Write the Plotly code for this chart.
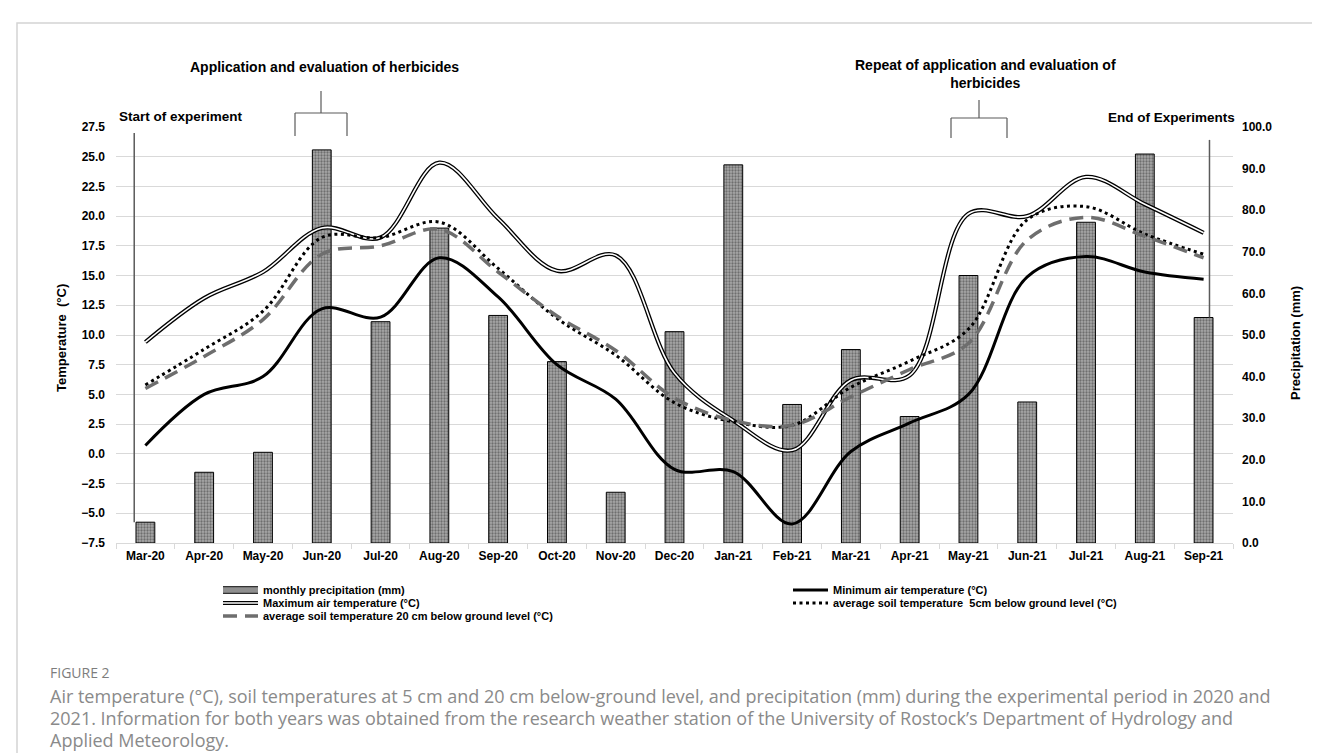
import plotly.graph_objects as go

months = ['Mar-20', 'Apr-20', 'May-20', 'Jun-20', 'Jul-20', 'Aug-20', 'Sep-20', 'Oct-20',
          'Nov-20', 'Dec-20', 'Jan-21', 'Feb-21', 'Mar-21', 'Apr-21', 'May-21', 'Jun-21',
          'Jul-21', 'Aug-21', 'Sep-21']
precip = [5.0, 17.0, 21.8, 94.5, 53.2, 75.7, 54.7, 43.6, 12.2, 50.8, 90.9, 33.3, 46.5,
          30.4, 64.3, 33.9, 77.1, 93.5, 54.2]
t_max = [9.4, 13.1, 15.3, 19.0, 18.2, 24.5, 19.8, 15.4, 16.7, 6.8, 2.8, 0.3, 6.2, 6.6,
         20.2, 20.0, 23.3, 21.0, 18.6]
t_min = [0.7, 5.0, 6.5, 12.2, 11.5, 16.5, 13.2, 7.5, 4.6, -1.3, -1.5, -5.9, 0.2, 2.6,
         5.0, 14.9, 16.6, 15.3, 14.7]
soil5 = [5.8, 8.8, 12.0, 18.2, 18.2, 19.5, 15.6, 11.4, 8.3, 4.3, 2.7, 2.4, 5.6, 7.8,
         10.5, 19.7, 20.8, 18.5, 16.8]
soil20 = [5.5, 8.2, 11.3, 16.8, 17.5, 18.9, 15.3, 11.6, 8.7, 4.7, 2.8, 2.4, 4.8, 7.1,
          9.3, 18.0, 19.9, 18.3, 16.5]

# plot-area pixel frame (for placing decorations in paper coords)
W, H = 1320, 753
L, R, T, B = 108, 1225, 119, 535


def px_x(px):
    return (px - L) / (R - L)


def px_y(py):
    return (B - py) / (B - T)


AX_FONT = dict(family='Liberation Sans, Arial, sans-serif', size=12, color='black', weight='bold')
LEG_FONT = dict(family='Liberation Sans Narrow, Arial Narrow, Liberation Sans, Arial', size=11,
                color='black', weight='bold')
BAR_NAME = 'monthly precipitation (mm)'

fig = go.Figure()

fig.add_trace(go.Bar(
    x=months, y=precip, name=BAR_NAME, yaxis='y', width=0.32,
    marker=dict(color='#a8a8a8', line=dict(color='black', width=1),
                pattern=dict(shape='.', fgcolor='#333333', bgcolor='#a8a8a8', size=3, solidity=0.45)),
    showlegend=False))
# legend keys for the bar series (wide patterned-bar look, as in the original legend)
fig.add_trace(go.Scatter(x=[None], y=[None], name=BAR_NAME, yaxis='y', mode='lines',
                         line=dict(color='#333333', width=8), legend='legend', showlegend=True))
fig.add_trace(go.Scatter(x=[None], y=[None], name=' ', yaxis='y', mode='lines',
                         line=dict(color='#8f8f8f', width=5.5), legend='legend7', showlegend=True))

fig.add_trace(go.Scatter(
    x=months, y=t_min, name='Minimum air temperature (°C)', yaxis='y2', mode='lines',
    line=dict(color='black', width=3, shape='spline', smoothing=1), legend='legend2',
    showlegend=True))

fig.add_trace(go.Scatter(
    x=months, y=t_max, name='Maximum air temperature (°C)', yaxis='y2', mode='lines',
    line=dict(color='black', width=4.2, shape='spline', smoothing=1), legend='legend3',
    showlegend=True))
fig.add_trace(go.Scatter(
    x=months, y=t_max, name=' ', yaxis='y2', mode='lines',
    line=dict(color='white', width=1.6, shape='spline', smoothing=1), legend='legend6',
    showlegend=True))

fig.add_trace(go.Scatter(
    x=months, y=soil5, name='average soil temperature  5cm below ground level (°C)', yaxis='y2',
    mode='lines', line=dict(color='black', width=3, dash='3px,3.5px', shape='spline', smoothing=1),
    legend='legend4', showlegend=True))

fig.add_trace(go.Scatter(
    x=months, y=soil20, name='average soil temperature 20 cm below ground level (°C)', yaxis='y2',
    mode='lines', line=dict(color='#6e6e6e', width=3.5, dash='14px,8px', shape='spline', smoothing=1),
    legend='legend5', showlegend=True))


def leg(xp, yp):
    return dict(x=px_x(xp), y=px_y(yp), xanchor='left', yanchor='middle', orientation='v',
                bgcolor='rgba(0,0,0,0)', borderwidth=0, font=LEG_FONT, itemwidth=35,
                tracegroupgap=0, visible=True)


anns = [
    dict(text='Application and evaluation of herbicides', x=px_x(316), y=px_y(59),
         xanchor='center', yanchor='middle', font=dict(size=14)),
    dict(text='Start of experiment', x=px_x(109), y=px_y(108), xanchor='left', yanchor='middle',
         font=dict(size=13.5)),
    dict(text='Repeat of application and evaluation of<br>herbicides', x=px_x(977), y=px_y(66),
         xanchor='center', yanchor='middle', font=dict(size=14)),
    dict(text='End of Experiments', x=px_x(1229), y=px_y(110), xanchor='right', yanchor='middle',
         font=dict(size=13.5)),
    dict(text='Temperature  (°C)', x=px_x(53), y=px_y(330), xanchor='center', yanchor='middle',
         textangle=-90, font=dict(size=13)),
    dict(text='Precipitation (mm)', x=px_x(1287), y=px_y(335), xanchor='center', yanchor='middle',
         textangle=-90, font=dict(size=13)),
    dict(text='FIGURE 2', x=px_x(40), y=px_y(664), xanchor='left', yanchor='middle',
         font=dict(family='Open Sans, Lato, sans-serif', size=14, color='#7d7d7d', weight='normal')),
]
cap_lines = [
    'Air temperature (°C), soil temperatures at 5 cm and 20 cm below-ground level, and precipitation (mm) during the experimental period in 2020 and',
    '2021. Information for both years was obtained from the research weather station of the University of Rostock’s Department of Hydrology and',
    'Applied Meteorology.',
]
for i, ln in enumerate(cap_lines):
    anns.append(dict(text=ln, x=px_x(40), y=px_y(688 + 22 * i), xanchor='left', yanchor='middle',
                     font=dict(family='Open Sans, Lato, sans-serif', size=18, color='#8a8a8a',
                               weight='normal')))
for a in anns:
    a.update(xref='paper', yref='paper', showarrow=False)
    f = dict(family='Liberation Sans, Arial, sans-serif', color='black', weight='bold')
    f.update(a['font'])
    a['font'] = f

GRAY = '#5a5a5a'


def pline(x0, y0, x1, y1, color=GRAY, width=1.2):
    return dict(type='line', xref='paper', yref='paper', x0=px_x(x0), y0=px_y(y0),
                x1=px_x(x1), y1=px_y(y1), line=dict(color=color, width=width))


shapes = [
    # outer light frame
    dict(type='rect', xref='paper', yref='paper', x0=px_x(9), y0=px_y(15), x1=px_x(1340),
         y1=px_y(780), line=dict(color='#d4d4d4', width=1.5), fillcolor='rgba(0,0,0,0)', layer='below'),
    # bracket 1
    pline(313, 83, 313, 105), pline(287, 105, 339, 105), pline(287, 105, 287, 128), pline(339, 105, 339, 128),
    # bracket 2
    pline(971, 92, 971, 110), pline(943, 110, 999, 110), pline(943, 110, 943, 130), pline(999, 110, 999, 130),
    # start / end of experiment markers
    dict(type='line', xref='x', yref='y2', x0=-0.19, x1=-0.19, y0=27.0, y1=-5.75,
         line=dict(color=GRAY, width=1.5)),
    dict(type='line', xref='x', yref='y', x0=len(months) - 1 + 0.1, x1=len(months) - 1 + 0.1,
         y0=precip[-1], y1=96.9, line=dict(color=GRAY, width=1.5)),
]

fig.update_layout(
    width=W, height=H, autosize=False, showlegend=True,
    margin=dict(l=L, r=W - R, t=T, b=H - B, pad=0),
    paper_bgcolor='white', plot_bgcolor='white',
    font=dict(family='Liberation Sans, Arial, sans-serif', color='black'),
    bargap=0.68,
    xaxis=dict(type='category', categoryorder='array', categoryarray=months,
               showline=True, linecolor='#d9d9d9', linewidth=1, ticks='outside', ticklen=5,
               tickcolor='#d9d9d9', tickson='boundaries', showgrid=False, tickfont=AX_FONT,
               ticklabelstandoff=2, range=[-0.5, len(months) - 0.5]),
    yaxis=dict(side='right', range=[0, 100], dtick=10, tickformat='.1f', showgrid=False,
               zeroline=False, showline=False, tickfont=AX_FONT, ticklabelstandoff=8),
    yaxis2=dict(overlaying='y', side='left', range=[-7.5, 27.5], dtick=2.5, tick0=-7.5,
                tickformat='.1f', showgrid=True, gridcolor='#d9d9d9', gridwidth=1.2,
                zeroline=False, showline=False, tickfont=AX_FONT, ticklabelstandoff=10),
    legend=leg(210, 582),
    legend7=leg(210, 582),
    legend2=leg(780, 582),
    legend3=leg(210, 595),
    legend4=leg(780, 595),
    legend5=leg(210, 608),
    legend6=leg(210, 595),
    annotations=anns,
    shapes=shapes,
)

fig.write_html('out.html')
